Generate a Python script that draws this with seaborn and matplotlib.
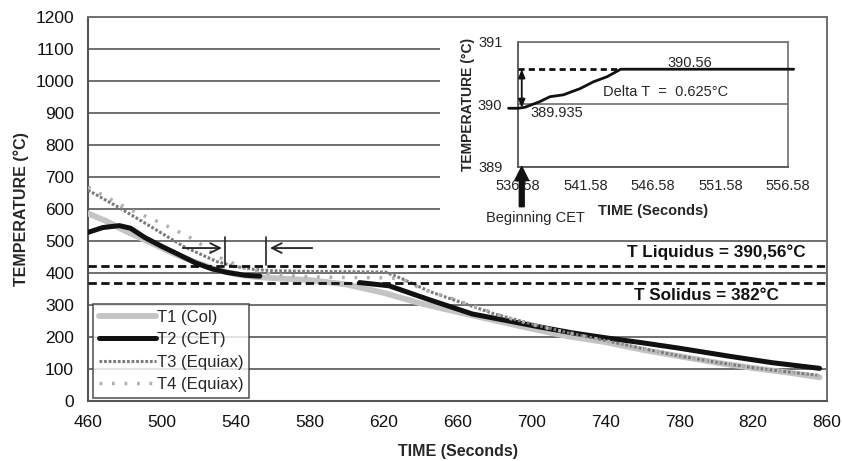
import matplotlib
matplotlib.use("Agg")
import matplotlib.pyplot as plt
import seaborn as sns
import pandas as pd
from matplotlib.patches import Rectangle
from matplotlib.lines import Line2D

# ---------------- data ----------------
t1_time = [460, 470, 480, 490, 500, 510, 520, 530, 540, 550, 560, 580, 600, 620, 640, 660, 680, 700, 720, 740, 760, 780, 800, 820, 840, 856]
t1_temp = [586, 562, 532, 505, 478, 452, 430, 410, 396, 388, 384, 378, 364, 338, 305, 278, 252, 226, 202, 184, 160, 140, 120, 103, 88, 74]

t2a_time = [460, 468, 477, 483, 491, 500, 509, 518, 527, 535, 545, 553]
t2a_temp = [527, 542, 548, 540, 510, 483, 458, 432, 413, 402, 393, 390]
t2b_time = [607, 623, 645, 668, 686, 704, 722, 742, 760, 780, 807, 830, 856]
t2b_temp = [370, 360, 316, 272, 252, 232, 213, 196, 182, 165, 140, 120, 102]

t3_time = [460, 476, 494, 512, 530, 540, 550, 560, 580, 600, 621, 630, 645, 660, 680, 700, 720, 740, 760, 780, 800, 820, 840, 856]
t3_temp = [659, 607, 545, 482, 435, 420, 411, 407, 405, 404, 403, 382, 342, 312, 272, 241, 213, 189, 164, 141, 121, 104, 90, 80]

t4_time = [460, 482, 500, 518, 530, 545, 560, 580, 600, 620, 629, 640, 656, 672, 686, 705, 722, 740, 758, 780, 807, 830, 856]
t4_temp = [668, 600, 555, 503, 451, 415, 395, 388, 386, 385, 383, 352, 322, 290, 262, 232, 211, 188, 166, 140, 113, 95, 78]

series_labels = ["T1 (Col)", "T2 (CET)", "T3 (Equiax)", "T4 (Equiax)"]

liquidus_temp = 422
solidus_temp = 368
liquidus_label = "T Liquidus = 390,56°C"
solidus_label = "T Solidus = 382°C"

x_ticks = [460, 500, 540, 580, 620, 660, 700, 740, 780, 820, 860]
y_ticks = [0, 100, 200, 300, 400, 500, 600, 700, 800, 900, 1000, 1100, 1200]

inset_time = [535.9, 536.6, 537.1, 537.6, 538.2, 538.97, 539.96, 541.2, 542.2, 543.2, 544.2, 545.0, 557.0]
inset_temp = [389.935, 389.935, 389.95, 389.99, 390.04, 390.12, 390.15, 390.25, 390.36, 390.44, 390.56, 390.56, 390.56]
inset_x_ticks = [536.58, 541.58, 546.58, 551.58, 556.58]
inset_y_ticks = [389, 390, 391]

# ---------------- style ----------------
sns.set_style("white")
plt.rcParams["font.family"] = ["Liberation Sans", "DejaVu Sans"]

W, H = 842, 461
fig = plt.figure(figsize=(W / 100, H / 100), dpi=100)

def fig_rect(x0, y0, x1, y1):
    return [x0 / W, (H - y1) / H, (x1 - x0) / W, (y1 - y0) / H]

ax = fig.add_axes(fig_rect(88, 17, 827, 401))

grid_c = "#707070"
ax.set_xlim(460, 860)
ax.set_ylim(0, 1200)
ax.set_xticks(x_ticks)
ax.set_yticks(y_ticks)
ax.yaxis.grid(True, color=grid_c, lw=1.4)
ax.xaxis.grid(False)
ax.set_axisbelow(True)
for s in ["left", "bottom"]:
    ax.spines[s].set_color("#555555")
    ax.spines[s].set_linewidth(1.5)
for s in ["top", "right"]:
    ax.spines[s].set_color(grid_c)
    ax.spines[s].set_linewidth(1.4)
ax.tick_params(axis="both", direction="inout", length=6, width=1.3, color="#555555",
               labelsize=12.5, colors="#111111")
ax.tick_params(axis="x", pad=7)
ax.tick_params(axis="y", pad=7)

# curves
c_t1, c_t2, c_t3, c_t4 = "#c4c4c4", "#111111", "#7a7a7a", "#b0b0b0"
ls_t3 = (0, (0.9, 0.6))
ls_t4 = (0, (0.8, 2.8))

sns.lineplot(x=t1_time, y=t1_temp, ax=ax, color=c_t1, lw=4.2, legend=False, zorder=3)
sns.lineplot(x=t2a_time, y=t2a_temp, ax=ax, color=c_t2, lw=3.6, legend=False, zorder=4)
sns.lineplot(x=t2b_time, y=t2b_temp, ax=ax, color=c_t2, lw=3.6, legend=False, zorder=4)
sns.lineplot(x=t3_time, y=t3_temp, ax=ax, color=c_t3, lw=2.2, linestyle=ls_t3, legend=False, zorder=5)
sns.lineplot(x=t4_time, y=t4_temp, ax=ax, color=c_t4, lw=2.5, linestyle=ls_t4, legend=False, zorder=6)

# liquidus / solidus
ax.axhline(liquidus_temp, color="#111111", lw=2.0, linestyle=(0, (3, 1.6)), zorder=7)
ax.axhline(solidus_temp, color="#111111", lw=2.0, linestyle=(0, (3, 1.6)), zorder=7)
ax.text(800, 464, liquidus_label, ha="center", va="center", fontsize=12.3, fontweight="bold", color="#111111")
ax.text(794.5, 331, solidus_label, ha="center", va="center", fontsize=12.3, fontweight="bold", color="#111111")

# markers of CET zone
ax.plot([534.2, 534.2], [425, 513], color="#222222", lw=1.2, zorder=7)
ax.plot([556.6, 556.6], [425, 513], color="#222222", lw=1.2, zorder=7)
ax.annotate("", xy=(534.0, 478), xytext=(509.8, 478),
            arrowprops=dict(arrowstyle="->,head_width=0.35,head_length=0.7", lw=1.3, color="#222222"), zorder=8)
ax.annotate("", xy=(557.0, 478), xytext=(582.9, 478),
            arrowprops=dict(arrowstyle="->,head_width=0.35,head_length=0.7", lw=1.3, color="#222222"), zorder=8)

ax.set_xlabel("TIME (Seconds)", fontsize=11.5, fontweight="bold", labelpad=10)
ax.set_ylabel("TEMPERATURE (°C)", fontsize=11.5, fontweight="bold", labelpad=5)

handles = [
    Line2D([], [], color=c_t1, lw=4.2),
    Line2D([], [], color=c_t2, lw=3.6),
    Line2D([], [], color=c_t3, lw=2.2, linestyle=ls_t3),
    Line2D([], [], color=c_t4, lw=2.5, linestyle=ls_t4),
]
leg = ax.legend(handles, series_labels, loc="lower left", bbox_to_anchor=(0.007, 0.008),
                fontsize=12, frameon=True, fancybox=False, edgecolor="#333333",
                handlelength=3.4, handletextpad=0.05, borderpad=0.35, labelspacing=0.45,
                borderaxespad=0)
leg.get_frame().set_linewidth(1.2)
leg.set_zorder(10)

# ---------------- inset ----------------
bg = Rectangle((440 / W, (H - 238) / H), (826 - 440) / W, (238 - 18.6) / H,
               transform=fig.transFigure, facecolor="white", edgecolor="none", zorder=1)
fig.patches.append(bg)

ins = fig.add_axes(fig_rect(517.7, 41.7, 788, 166.7), zorder=3)
ins.set_xlim(536.58, 556.58)
ins.set_ylim(389, 391)
ins.set_xticks(inset_x_ticks)
ins.set_xticklabels([f"{v:.2f}" for v in inset_x_ticks])
ins.set_yticks(inset_y_ticks)
ins.set_yticklabels([str(v) for v in inset_y_ticks])
ins.set_xticks([536.58 + i for i in range(1, 20)], minor=True)
ins.yaxis.grid(True, color=grid_c, lw=1.2)
ins.xaxis.grid(False)
for s in ["left", "bottom"]:
    ins.spines[s].set_color("#555555")
    ins.spines[s].set_linewidth(1.3)
for s in ["top", "right"]:
    ins.spines[s].set_color(grid_c)
    ins.spines[s].set_linewidth(1.2)
ins.tick_params(axis="x", which="major", direction="in", length=3, color="#555555", labelsize=10.5, pad=9)
ins.tick_params(axis="x", which="minor", direction="in", length=2, color="#555555")
ins.tick_params(axis="y", which="major", length=0, labelsize=10.5, pad=11)

sns.lineplot(x=inset_time, y=inset_temp, ax=ins, color="#111111", lw=2.0, legend=False, zorder=5)
for ln in ins.lines:
    ln.set_clip_on(False)
ins.plot([536.58, 544.2], [390.56, 390.56], color="#111111", lw=2.0, linestyle=(0, (2.2, 1.5)), zorder=4)
ins.annotate("", xy=(536.88, 390.56), xytext=(536.88, 389.94),
             arrowprops=dict(arrowstyle="<|-|>,head_width=0.2,head_length=0.5", lw=1.3, color="#111111",
                             shrinkA=0, shrinkB=0), annotation_clip=False)
ins.annotate("", xy=(536.88, 389.0), xytext=(536.88, 388.36), xycoords="data",
             arrowprops=dict(width=3.5, headwidth=10, headlength=10, color="#111111", shrink=0),
             annotation_clip=False)
ins.text(549.3, 390.66, "390.56", fontsize=10.5, ha="center", va="center")
ins.text(539.5, 389.86, "389.935", fontsize=10.5, ha="center", va="center")
ins.text(547.5, 390.19, "Delta T  =  0.625°C", fontsize=10.5, ha="center", va="center")
ins.text(537.92, 388.18, "Beginning CET", fontsize=10.5, ha="center", va="center", clip_on=False)
ins.set_xlabel("TIME (Seconds)", fontsize=10.5, fontweight="bold", labelpad=8)
ins.set_ylabel("TEMPERATURE (°C)", fontsize=10, fontweight="bold", labelpad=2)

fig.savefig("out.png", dpi=100)
